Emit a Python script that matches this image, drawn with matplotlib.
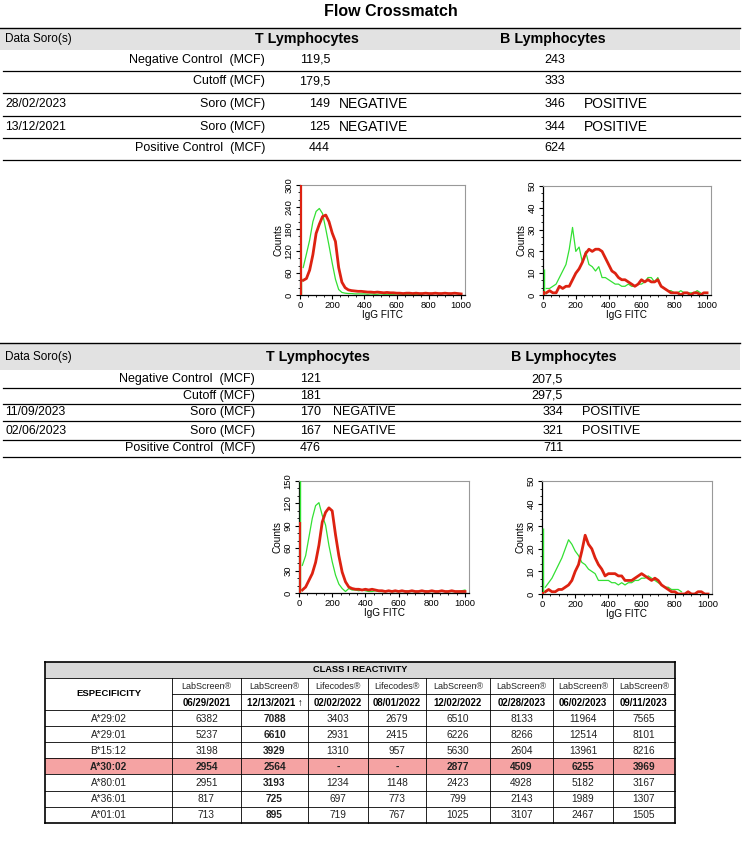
import matplotlib
matplotlib.use("Agg")
import matplotlib.pyplot as plt
from matplotlib.patches import Rectangle
from matplotlib.ticker import MultipleLocator, AutoMinorLocator
import numpy as np

plt.rcParams['font.family'] = ['Liberation Sans', 'DejaVu Sans']

# ---- crossmatch 1 ----
xm1_dates = ["", "", "28/02/2023", "13/12/2021", ""]
xm1_labels = ["Negative Control  (MCF)", "Cutoff (MCF)", "Soro (MCF)", "Soro (MCF)", "Positive Control  (MCF)"]
xm1_t = ["119,5", "179,5", "149", "125", "444"]
xm1_t_res = ["", "", "NEGATIVE", "NEGATIVE", ""]
xm1_b = ["243", "333", "346", "344", "624"]
xm1_b_res = ["", "", "POSITIVE", "POSITIVE", ""]

# ---- crossmatch 2 ----
xm2_dates = ["", "", "11/09/2023", "02/06/2023", ""]
xm2_labels = ["Negative Control  (MCF)", "Cutoff (MCF)", "Soro (MCF)", "Soro (MCF)", "Positive Control  (MCF)"]
xm2_t = ["121", "181", "170", "167", "476"]
xm2_t_res = ["", "", "NEGATIVE", "NEGATIVE", ""]
xm2_b = ["207,5", "297,5", "334", "321", "711"]
xm2_b_res = ["", "", "POSITIVE", "POSITIVE", ""]

# ---- histograms (counts per 20 channel step) ----
channels = np.arange(0, 1001, 20)
t1_green = [50, 75, 112, 150, 200, 228, 236, 222, 180, 135, 87, 43, 15, 7, 5, 4, 4, 3, 3, 3,
            3, 2, 3, 2, 2, 3, 2, 2, 2, 2, 3, 2, 2, 2, 2, 2, 2, 2, 2]
t1_red = [320, 40, 45, 68, 110, 168, 193, 214, 218, 200, 169, 146, 75, 35, 20, 14, 12, 11, 10, 10,
          9, 8, 8, 7, 8, 7, 6, 7, 6, 6, 5, 5, 4, 5, 5, 4, 5, 4, 4, 5,
          4, 4, 5, 4, 4, 5, 4, 4, 5, 4, 3]
b1_green = [12, 3, 3, 4, 5, 8, 11, 14, 21, 31, 20, 22, 15, 20, 14, 13, 11, 13, 8, 8,
            7, 6, 5, 5, 4, 4, 5, 4, 4, 5, 5, 6, 8, 8, 6, 8, 4, 3, 2, 2,
            1, 1, 2, 1, 1, 1, 1, 2, 1]
b1_red = [2, 1, 2, 1, 1, 4, 3, 4, 4, 7, 10, 12, 15, 19, 21, 20, 21, 21, 20, 17,
          14, 11, 10, 8, 7, 7, 6, 5, 4, 5, 7, 6, 7, 6, 6, 7, 4, 3, 2, 1,
          1, 1, 0, 1, 1, 0, 1, 1, 0, 1, 1]
t2_green = [160, 37, 50, 75, 100, 117, 121, 104, 91, 64, 42, 24, 12, 6, 2, 6, 4, 4, 3, 4,
            3, 2, 2, 3, 2, 2, 2, 3, 2, 2, 2, 2, 3, 2, 2, 2, 2, 2, 3, 2,
            2, 2, 2, 3, 2, 2, 2, 2, 2, 3, 4]
t2_red = [95, 4, 8, 17, 26, 41, 64, 95, 108, 114, 110, 78, 50, 28, 15, 8, 6, 5, 5, 4,
          5, 4, 5, 4, 3, 3, 2, 3, 2, 3, 2, 3, 2, 2, 3, 2, 2, 3, 2, 2,
          3, 2, 2, 3, 2, 2, 3, 2, 2, 2, 2]
b2_green = [29, 3, 5, 7, 10, 13, 16, 20, 24, 22, 19, 17, 14, 13, 11, 10, 9, 6, 6, 6,
            6, 5, 5, 4, 5, 4, 5, 5, 6, 6, 7, 7, 8, 7, 6, 5, 4, 3, 3, 2,
            2, 2, 1]
b2_red = [1, 1, 2, 1, 1, 2, 2, 3, 4, 6, 10, 13, 19, 26, 22, 20, 16, 13, 11, 8,
          9, 9, 9, 8, 8, 6, 6, 6, 7, 8, 9, 8, 7, 6, 7, 6, 4, 3, 2, 1,
          1, 0, 0, 0, 1, 0, 0, 1, 1, 0, 0]

# ---- class I reactivity ----
methods = ["LabScreen®", "LabScreen®", "Lifecodes®", "Lifecodes®", "LabScreen®", "LabScreen®", "LabScreen®", "LabScreen®"]
test_dates = ["06/29/2021", "12/13/2021 ↑", "02/02/2022", "08/01/2022", "12/02/2022", "02/28/2023", "06/02/2023", "09/11/2023"]
specificities = ["A*29:02", "A*29:01", "B*15:12", "A*30:02", "A*80:01", "A*36:01", "A*01:01"]
mfi = [
    ["6382", "7088", "3403", "2679", "6510", "8133", "11964", "7565"],
    ["5237", "6610", "2931", "2415", "6226", "8266", "12514", "8101"],
    ["3198", "3929", "1310", "957", "5630", "2604", "13961", "8216"],
    ["2954", "2564", "-", "-", "2877", "4509", "6255", "3969"],
    ["2951", "3193", "1234", "1148", "2423", "4928", "5182", "3167"],
    ["817", "725", "697", "773", "799", "2143", "1989", "1307"],
    ["713", "895", "719", "767", "1025", "3107", "2467", "1505"],
]
highlight = "A*30:02"

W, H = 743, 842
fig = plt.figure(figsize=(W / 100, H / 100), dpi=100)
ax = fig.add_axes([0, 0, 1, 1])
ax.set_xlim(0, W)
ax.set_ylim(H, 0)
ax.axis('off')

ax.text(391, 11, "Flow Crossmatch", ha='center', va='center', fontsize=11.5, fontweight='bold')


def crossmatch(top, band_bot, hdr_y, row_y, line_y, tcx, bcx, lab_r, tx, t_align, res_t, bx, res_b,
               dates, labels, tv, tr, bv, br, res_size):
    ax.add_patch(Rectangle((0, top + 1), 740, band_bot - top - 1, color='#e2e2e2', lw=0))
    ax.plot([0, 740], [top, top], color='black', lw=1)
    ax.text(5, hdr_y, "Data Soro(s)", ha='left', va='center', fontsize=8.5)
    ax.text(tcx, hdr_y, "T Lymphocytes", ha='center', va='center', fontsize=10.3, fontweight='bold')
    ax.text(bcx, hdr_y, "B Lymphocytes", ha='center', va='center', fontsize=10.3, fontweight='bold')
    for i in range(len(labels)):
        y = row_y[i]
        ax.text(5, y, dates[i], ha='left', va='center', fontsize=8.8)
        ax.text(lab_r, y, labels[i], ha='right', va='center', fontsize=9)
        ax.text(tx, y, tv[i], ha=t_align, va='center', fontsize=9)
        ax.text(res_t, y, tr[i], ha='left', va='center', fontsize=res_size)
        ax.text(bx, y, bv[i], ha='right', va='center', fontsize=9)
        ax.text(res_b, y, br[i], ha='left', va='center', fontsize=res_size)
        ax.plot([3, 740], [line_y[i], line_y[i]], color='black', lw=0.9)


crossmatch(28, 50, 39, [60, 81, 104, 127, 148], [71, 93, 116, 138, 160], 307, 553,
           265, 330, 'right', 339, 565, 584,
           xm1_dates, xm1_labels, xm1_t, xm1_t_res, xm1_b, xm1_b_res, 10)
crossmatch(343, 370, 357, [379, 396, 412, 431, 448], [388, 404, 421, 440, 457], 318, 564,
           255, 300, 'left', 333, 563, 582,
           xm2_dates, xm2_labels, xm2_t, xm2_t_res, xm2_b, xm2_b_res, 9.1)

GREEN = '#33e033'
RED = '#dd2211'


def histo(left, top, right, bottom, green, red, ymax, ystep):
    a = fig.add_axes([left / W, 1 - bottom / H, (right - left) / W, (bottom - top) / H])
    # first channel spike drawn as a bar next to the axis edge
    a.vlines(channels[0] + 9, 0, green[0], color=GREEN, lw=1.0, zorder=3)
    a.plot(channels[1:len(green)], green[1:], color=GREEN, lw=0.9)
    a.vlines(channels[0] + 9, 0, red[0], color=RED, lw=1.6, zorder=3)
    a.plot(channels[1:len(red)], red[1:], color=RED, lw=2.0)
    a.set_xlim(0, 1024)
    a.set_ylim(0, ymax)
    a.xaxis.set_major_locator(MultipleLocator(200))
    a.xaxis.set_minor_locator(MultipleLocator(50))
    a.yaxis.set_major_locator(MultipleLocator(ystep))
    a.yaxis.set_minor_locator(AutoMinorLocator(3))
    a.tick_params(which='major', direction='out', length=3, width=0.8, labelsize=6.8, pad=1.5)
    a.tick_params(which='minor', direction='out', length=1.5, width=0.6)
    a.tick_params(axis='y', labelrotation=90)
    for lab in a.get_yticklabels():
        lab.set_va('center')
    for s in ['top', 'right']:
        a.spines[s].set_color('#999999')
    for s in ['left', 'bottom']:
        a.spines[s].set_linewidth(0.9)
    a.set_xlabel("IgG FITC", fontsize=7.2, labelpad=0)
    a.set_ylabel("Counts", fontsize=7.2, labelpad=1)


histo(300, 185, 465, 295, t1_green, t1_red, 300, 60)
histo(543, 186, 711, 295, b1_green, b1_red, 50, 10)
histo(299, 481, 469, 593, t2_green, t2_red, 150, 30)
histo(542, 481, 712, 594, b2_green, b2_red, 50, 10)

# ---- class I reactivity table ----
cx = [45, 172, 241, 308, 368, 426, 490, 553, 613, 675]
ry = [661.7, 677.7, 694, 710, 726, 742, 758, 774.3, 791, 807, 823]
fs = 7.3
ax.add_patch(Rectangle((cx[0], ry[0]), cx[-1] - cx[0], ry[1] - ry[0], color='#d9d9d9', lw=0))
hi = specificities.index(highlight)
ax.add_patch(Rectangle((cx[0], ry[3 + hi]), cx[-1] - cx[0], ry[4 + hi] - ry[3 + hi], color='#f5a3a3', lw=0))
ax.text((cx[0] + cx[-1]) / 2, (ry[0] + ry[1]) / 2, "CLASS I REACTIVITY", ha='center', va='center',
        fontsize=fs - 0.6, fontweight='bold')
ax.text((cx[0] + cx[1]) / 2, (ry[1] + ry[3]) / 2, "ESPECIFICITY", ha='center', va='center',
        fontsize=fs - 0.5, fontweight='bold')
for j in range(len(methods)):
    xc = (cx[j + 1] + cx[j + 2]) / 2
    ax.text(xc, (ry[1] + ry[2]) / 2 + 0.5, methods[j], ha='center', va='center', fontsize=fs - 0.8,
            color='#222222')
    ax.text(xc, (ry[2] + ry[3]) / 2 + 0.5, test_dates[j], ha='center', va='center', fontsize=fs - 0.4,
            fontweight='bold')
for i, sp in enumerate(specificities):
    yc = (ry[3 + i] + ry[4 + i]) / 2 + 0.5
    bold_row = sp == highlight
    ax.text((cx[0] + cx[1]) / 2, yc, sp, ha='center', va='center', fontsize=fs,
            fontweight='bold' if bold_row else 'normal', color='#222222')
    for j, v in enumerate(mfi[i]):
        bold = bold_row or j == 1
        ax.text((cx[j + 1] + cx[j + 2]) / 2, yc, v, ha='center', va='center', fontsize=fs,
                fontweight='bold' if bold else 'normal', color='#222222')

for k, y in enumerate(ry):
    x0 = cx[1] if k == 2 else cx[0]
    lw = 1.2 if k in (0, len(ry) - 1) else 0.6
    ax.plot([x0, cx[-1]], [y, y], color='black', lw=lw)
for k, x in enumerate(cx):
    y0 = ry[0] if k in (0, len(cx) - 1) else ry[1]
    lw = 1.2 if k in (0, len(cx) - 1) else 0.6
    ax.plot([x, x], [y0, ry[-1]], color='black', lw=lw)

fig.savefig("out.png", dpi=100)
